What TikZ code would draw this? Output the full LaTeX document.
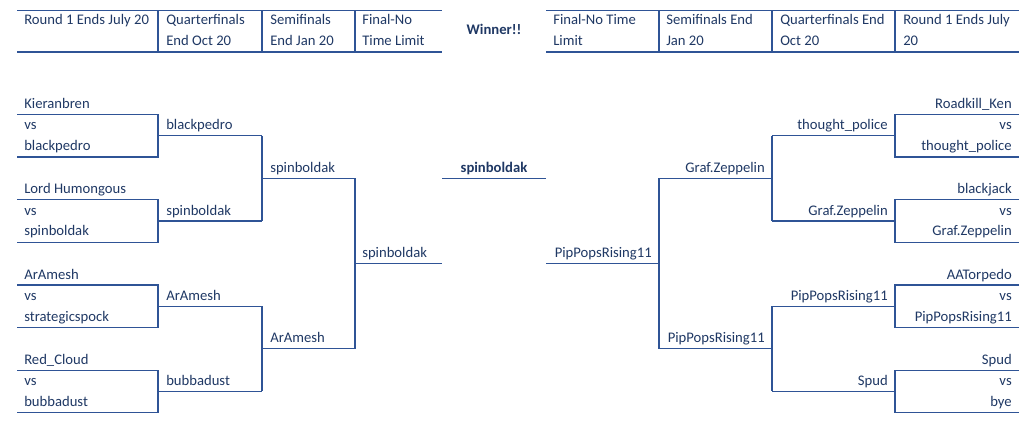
\documentclass[tikz,border=0pt]{standalone}
\usepackage{fontspec}
\setmainfont{Carlito}
\usepackage{tikz}
\definecolor{brline}{RGB}{47,84,150}
\definecolor{brtext}{RGB}{31,56,100}
\tikzset{
  brk/.style={draw=brline, line width=0.9pt},
  lname/.style={anchor=base west, inner sep=0pt, text=brtext, font=\fontsize{11}{13}\selectfont},
  rname/.style={anchor=base east, inner sep=0pt, text=brtext, font=\fontsize{11}{13}\selectfont},
  cname/.style={anchor=base, inner sep=0pt, text=brtext, font=\fontsize{11}{13}\selectfont\bfseries}
}
\begin{document}
\begin{tikzpicture}[x=0.75pt,y=0.75pt,yscale=-1,xscale=1]
\useasboundingbox (0,0) rectangle (1032,431);
% Header
\draw [brk] (17,10.5) -- (442,10.5) (17,52) -- (442,52);
\draw [brk] (546,10.5) -- (1019,10.5) (546,52) -- (1019,52);
\foreach \xx in {158,262,355,659,772,895}
  \draw [brk] (\xx,10.5) -- (\xx,52);
\node [lname] (h1) at (24,25) {Round 1 Ends July 20};
\node [lname] (h2) at (166,25) {Quarterfinals};
\node [lname] at (166,46) {End Oct 20};
\node [lname] (h3) at (270,25) {Semifinals};
\node [lname] at (270,46) {End Jan 20};
\node [lname] (h4) at (362,25) {Final-No};
\node [lname] at (362,46) {Time Limit};
\node [cname] (hw) at (494,35) {Winner!!};
\node [lname] (h5) at (553,25) {Final-No Time};
\node [lname] at (553,46) {Limit};
\node [lname] (h6) at (666,25) {Semifinals End};
\node [lname] at (666,46) {Jan 20};
\node [lname] (h7) at (780,25) {Quarterfinals End};
\node [lname] at (780,46) {Oct 20};
\node [lname] (h8) at (903,25) {Round 1 Ends July};
\node [lname] at (903,46) {20};

% Left bracket
\foreach \n in {0,4,8,12}{
  \draw [brk] (17,{114.5+21.3*\n}) -- (158,{114.5+21.3*\n}) -- (158,{114.5+21.3*(\n+2)}) -- (17,{114.5+21.3*(\n+2)});
  \draw [brk] (158,{114.5+21.3*(\n+1)}) -- (262,{114.5+21.3*(\n+1)});
  \node [lname] at (24,{114.5+21.3*(\n+1)-6}) {vs};
  % right side
  \draw [brk] (1019,{114.5+21.3*\n}) -- (895,{114.5+21.3*\n}) -- (895,{114.5+21.3*(\n+2)}) -- (1019,{114.5+21.3*(\n+2)});
  \draw [brk] (895,{114.5+21.3*(\n+1)}) -- (772,{114.5+21.3*(\n+1)});
  \node [rname] at (1012,{114.5+21.3*(\n+1)-6}) {vs};
}
\foreach \n in {1,9}{
  \draw [brk] (262,{114.5+21.3*\n}) -- (262,{114.5+21.3*(\n+4)});
  \draw [brk] (772,{114.5+21.3*\n}) -- (772,{114.5+21.3*(\n+4)});
}
\draw [brk] (262,178.4) -- (355,178.4) -- (355,348.8) -- (262,348.8);
\draw [brk] (355,263.6) -- (442,263.6);
\draw [brk] (442,178.4) -- (546,178.4);
\draw [brk] (546,263.6) -- (659,263.6);
\draw [brk] (772,178.4) -- (659,178.4) -- (659,348.8) -- (772,348.8);

% Round 1, left
\node [lname] (l1) at (24,108.5) {Kieranbren};
\node [lname] (l2) at (24,151) {blackpedro};
\node [lname] (l3) at (24,193.5) {Lord Humongous};
\node [lname] (l4) at (24,236) {spinboldak};
\node [lname] (l5) at (24,279) {ArAmesh};
\node [lname] (l6) at (24,321.5) {strategicspock};
\node [lname] (l7) at (24,364) {Red\_Cloud};
\node [lname] (l8) at (24,406.5) {bubbadust};
% Quarterfinals, left
\node [lname] (lq1) at (166,130) {blackpedro};
\node [lname] (lq2) at (166,215) {spinboldak};
\node [lname] (lq3) at (166,300) {ArAmesh};
\node [lname] (lq4) at (166,385.5) {bubbadust};
% Semifinals and final, left
\node [lname] (ls1) at (270,172.5) {spinboldak};
\node [lname] (ls2) at (270,342.5) {ArAmesh};
\node [lname] (lf) at (362,257.5) {spinboldak};
\node [cname] (win) at (494,172.5) {spinboldak};

% Round 1, right
\node [rname] (r1) at (1012,108.5) {Roadkill\_Ken};
\node [rname] (r2) at (1012,151) {thought\_police};
\node [rname] (r3) at (1012,193.5) {blackjack};
\node [rname] (r4) at (1012,236) {Graf.Zeppelin};
\node [rname] (r5) at (1012,279) {AATorpedo};
\node [rname] (r6) at (1012,321.5) {PipPopsRising11};
\node [rname] (r7) at (1012,364) {Spud};
\node [rname] (r8) at (1012,406.5) {bye};
% Quarterfinals, right
\node [rname] (rq1) at (888,130) {thought\_police};
\node [rname] (rq2) at (888,215) {Graf.Zeppelin};
\node [rname] (rq3) at (888,300) {PipPopsRising11};
\node [rname] (rq4) at (888,385.5) {Spud};
% Semifinals and final, right
\node [rname] (rs1) at (765,172.5) {Graf.Zeppelin};
\node [rname] (rs2) at (765,342.5) {PipPopsRising11};
\node [rname] (rf) at (652,257.5) {PipPopsRising11};
\end{tikzpicture}
\end{document}
